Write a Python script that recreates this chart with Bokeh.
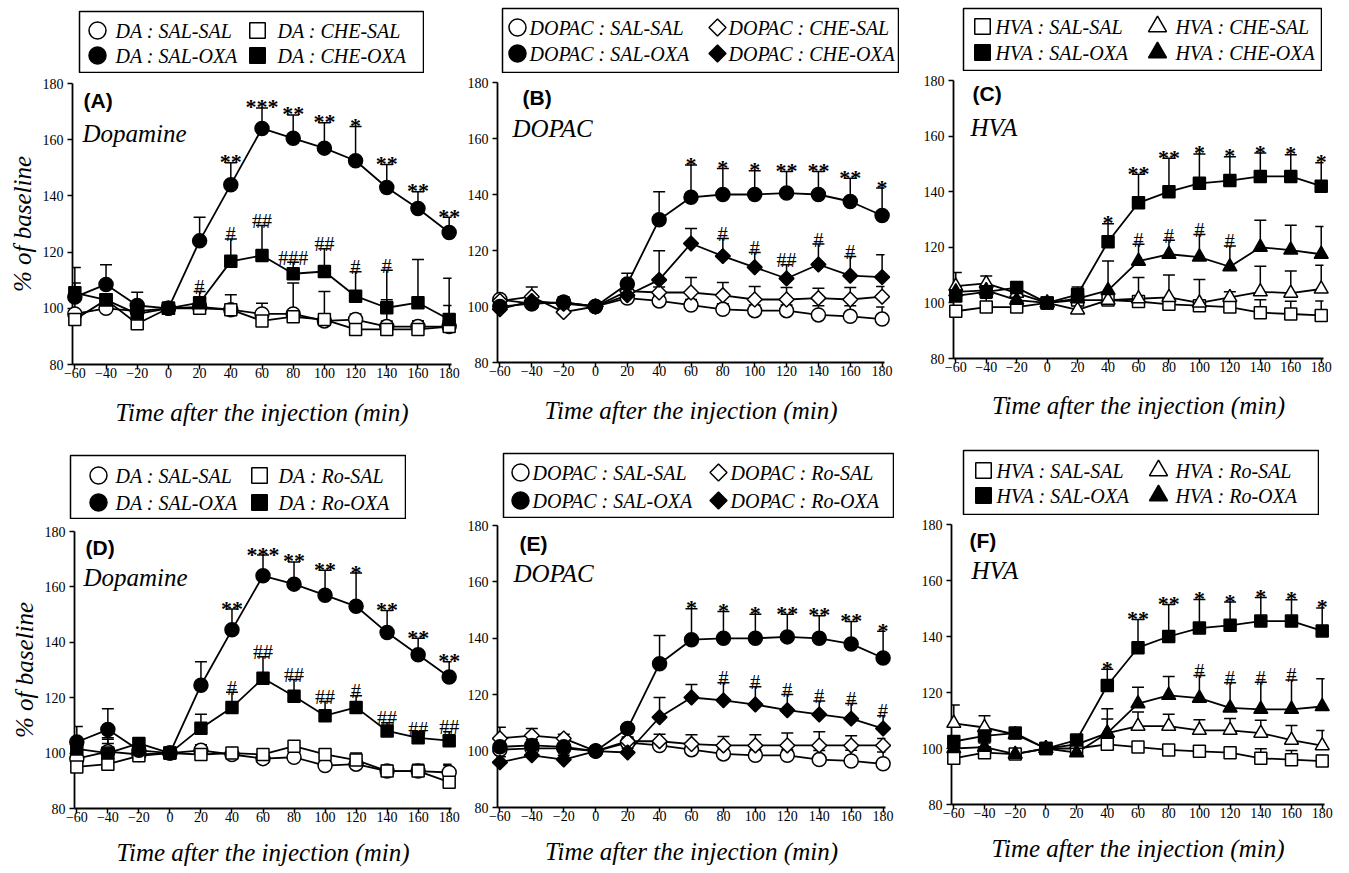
import math
from bokeh.plotting import figure
from bokeh.layouts import row, column
from bokeh.models import ColumnDataSource, Whisker, TeeHead, Label, Range1d, Spacer
from bokeh.core.properties import value
from bokeh.embed import file_html
from bokeh.resources import INLINE

# ---------------------------------------------------------------- data
TIME = [-60, -40, -20, 0, 20, 40, 60, 80, 100, 120, 140, 160, 180]
X_TICKS = [-60, -40, -20, 0, 20, 40, 60, 80, 100, 120, 140, 160, 180]
Y_TICKS = [80, 100, 120, 140, 160, 180]
X_TITLE = "Time after the injection (min)"
Y_TITLE = "% of baseline"

# (A) Dopamine, CHE
A_SAL_SAL = [98, 100, 99, 100, 100.5, 99.5, 98, 98, 95.5, 96, 93.5, 93.5, 93.5]
A_SAL_SAL_ERR = [8, 2, 2, 0, 1.5, 5.3, 3.8, 11, 2, 2, 2, 2, 1.5]
A_CHE_SAL = [96, 103, 94.5, 100, 100, 99.5, 95.5, 97, 96, 92.5, 92.5, 92.5, 93.5]
A_CHE_SAL_ERR = [2, 2, 2, 0, 1.5, 1.5, 2, 2, 10, 2, 10.5, 3, 7.5]
A_SAL_OXA = [104, 108.5, 101, 100, 124, 144, 164, 160.5, 157, 152.5, 143, 135.5, 127]
A_SAL_OXA_ERR = [10.5, 7, 4.7, 0, 8.4, 7.8, 7.3, 8.3, 9, 12.2, 8.2, 6, 5.4]
A_CHE_OXA = [105.5, 103, 98, 100, 102, 116.7, 118.8, 112.3, 113.1, 104.3, 100.2, 102, 96]
A_CHE_OXA_ERR = [3.5, 2, 3, 0, 4, 8, 10.7, 4.1, 8.1, 8.7, 13.3, 15.4, 14.7]
A_STARS = ["", "", "", "", "", "**", "***", "**", "**", "*", "**", "**", "**"]
A_HASH = ["", "", "", "", "#", "#", "##", "###", "##", "#", "#", "", ""]

# (B) DOPAC, CHE
B_SAL_SAL = [102.5, 101, 101.5, 100, 103, 102, 100.5, 99, 98.5, 98.5, 97, 96.5, 95.5]
B_SAL_SAL_ERR = [1.5, 2, 2, 0, 1.5, 2, 2, 2, 2, 2, 3.3, 3.8, 4.3]
B_CHE_SAL = [102, 103.5, 98, 100, 105.5, 105, 105, 104, 102.5, 102.5, 103, 102.5, 103.5]
B_CHE_SAL_ERR = [1.5, 3.5, 1.5, 0, 2, 2, 5.4, 4.6, 4.6, 4.3, 3.5, 4.3, 3.6]
B_SAL_OXA = [100, 101, 101.5, 100, 108, 131, 139, 140, 140, 140.5, 140, 137.5, 132.5]
B_SAL_OXA_ERR = [2, 2, 1.5, 0, 3.9, 10, 11.5, 9.3, 8.5, 7.7, 8.2, 8.3, 9.8]
B_CHE_OXA = [99, 102, 101, 100, 104, 109.5, 122.5, 118, 114, 110, 115, 111, 110.5]
B_CHE_OXA_ERR = [1.5, 2, 1.5, 0, 2, 10.4, 5.4, 6.3, 5.3, 4.9, 7.3, 6.9, 8]
B_STARS = ["", "", "", "", "", "", "*", "*", "*", "**", "**", "**", "*"]
B_HASH = ["", "", "", "", "", "", "", "#", "#", "##", "#", "#", ""]

# (C) HVA, CHE
C_SAL_SAL = [97, 98.5, 98.5, 100, 101, 101, 100.5, 99.5, 99, 98.5, 96.5, 96, 95.5]
C_SAL_SAL_ERR = [1.5, 3.2, 1.5, 0, 1.5, 1.5, 1.5, 1.5, 1.5, 1.5, 4.6, 4.6, 5.2]
C_CHE_SAL = [106, 107, 103.5, 100, 97.5, 101, 101.5, 102, 100, 102, 104, 103.5, 105]
C_CHE_SAL_ERR = [4.9, 2.7, 1.5, 0, 1.5, 1.5, 7.6, 8, 8.4, 2, 9.2, 8, 8.5]
C_SAL_OXA = [102.5, 104, 105.5, 100, 103, 122, 136, 140, 143, 144, 145.5, 145.5, 142]
C_SAL_OXA_ERR = [2, 2, 1.5, 0, 2.7, 6.5, 10.3, 12, 10.6, 8.6, 8.4, 7.8, 8.4]
C_CHE_OXA = [104, 104.5, 101, 100, 101.5, 104.5, 115, 117.5, 116.5, 113, 120, 119, 117.5]
C_CHE_OXA_ERR = [2, 2, 1.5, 0, 1.5, 10.6, 6.1, 5, 8.1, 7.5, 9.7, 8.9, 10]
C_STARS = ["", "", "", "", "", "*", "**", "**", "*", "*", "*", "*", "*"]
C_HASH = ["", "", "", "", "", "", "#", "#", "#", "#", "", "", ""]

# (D) Dopamine, Ro
D_SAL_SAL = [98, 100.5, 99.5, 100, 101, 99.5, 98, 98.5, 95.5, 96, 93.5, 93.5, 93]
D_SAL_SAL_ERR = [2, 3, 2, 0, 2, 2, 2, 1.5, 2, 2, 2, 2, 3]
D_RO_SAL = [95, 96, 99, 100, 99.5, 100, 99.5, 102.5, 99.5, 97.5, 93.5, 93.5, 89.5]
D_RO_SAL_ERR = [3, 9, 2, 0, 1.5, 1.5, 2, 1.5, 1.5, 2.5, 2, 2.5, 6]
D_SAL_OXA = [104, 108.5, 101, 100, 124.5, 144.5, 164, 161, 157, 153, 143.5, 135.5, 127.5]
D_SAL_OXA_ERR = [5.6, 7.5, 4, 0, 8.5, 7.5, 7.5, 8, 9, 12, 8, 6, 5.5]
D_RO_OXA = [101.5, 100, 103.5, 100, 109, 116.5, 127, 120.5, 113.5, 116.5, 108, 105.5, 104.5]
D_RO_OXA_ERR = [2, 5.5, 2, 0, 5, 5.5, 7.8, 6.1, 5.1, 4.2, 3, 1.5, 3.2]
D_STARS = ["", "", "", "", "", "**", "***", "**", "**", "*", "**", "**", "**"]
D_HASH = ["", "", "", "", "", "#", "##", "##", "##", "#", "##", "##", "##"]

# (E) DOPAC, Ro
E_SAL_SAL = [100.5, 101, 101, 100, 103, 102, 100.5, 99, 98.5, 98.5, 97, 96.5, 95.5]
E_SAL_SAL_ERR = [1.5, 1.5, 1.5, 0, 1.5, 1.5, 1.5, 2, 2, 2, 3.2, 3.8, 4.2]
E_RO_SAL = [104.5, 105.5, 104.5, 100, 103.5, 103.5, 102.5, 102, 102, 102, 102, 102, 102]
E_RO_SAL_ERR = [4, 2.5, 1.5, 0, 1.5, 2.5, 3.3, 3.2, 3.8, 4.4, 4.9, 3.4, 2.5]
E_SAL_OXA = [101.5, 102, 101.5, 100, 108, 131, 139.5, 140, 140, 140.5, 140, 138, 133]
E_SAL_OXA_ERR = [2, 2, 1.5, 0, 1.5, 10, 11, 9.5, 8.5, 8, 8, 8, 9.5]
E_RO_OXA = [96, 98.5, 97, 100, 99.5, 112, 119, 118, 116.5, 114.5, 113, 111.5, 108]
E_RO_OXA_ERR = [2, 2, 1.5, 0, 1.5, 7, 4.6, 6.2, 6.3, 5.6, 4.8, 5.4, 4.5]
E_STARS = ["", "", "", "", "", "", "*", "*", "*", "**", "**", "**", "*"]
E_HASH = ["", "", "", "", "", "", "", "#", "#", "#", "#", "#", "#"]

# (F) HVA, Ro
F_SAL_SAL = [96.5, 98.5, 98, 100, 100, 101.5, 100.5, 99.5, 99, 98.5, 96.5, 96, 95.5]
F_SAL_SAL_ERR = [1.5, 1.5, 1.5, 0, 1.5, 1.5, 1.5, 1.5, 1.5, 1.5, 3.4, 3.3, 2]
F_RO_SAL = [109, 107.5, 105, 100, 101.5, 105.5, 108, 108, 106.5, 106.5, 105.5, 103, 101]
F_RO_SAL_ERR = [6.5, 4.2, 1.5, 0, 1.5, 5, 5, 4.2, 3.8, 4.2, 4.6, 5.2, 5.4]
F_SAL_OXA = [102.5, 104.5, 105.5, 100, 103, 122.5, 136, 140, 143, 144, 145.5, 145.5, 142]
F_SAL_OXA_ERR = [2, 2, 1.5, 0, 1.5, 5.8, 10.1, 11.4, 10.2, 8.3, 8.4, 7.6, 8.2]
F_RO_OXA = [100, 100.5, 98, 100, 98.5, 105.5, 116, 119, 118, 114.5, 114, 114, 115]
F_RO_OXA_ERR = [1.5, 1.5, 1.5, 0, 1.5, 8.7, 5.9, 6.7, 8.1, 9, 9.7, 10.5, 9.9]
F_STARS = ["", "", "", "", "", "*", "**", "**", "*", "*", "*", "*", "*"]
F_HASH = ["", "", "", "", "", "", "", "", "#", "#", "#", "#", ""]

# ---------------------------------------------------------------- styles / layout
SERIF = "Liberation Serif"
SANS = "Liberation Sans"
X_RANGE = (-61.5, 181.5)
Y_RANGE = (80, 180)

MARK = {
    "circle": dict(marker="circle", size=14, angle=0.0),
    "square": dict(marker="square", size=12, angle=0.0),
    "diamond": dict(marker="square", size=10.5, angle=math.pi / 4),
    "triangle": dict(marker="triangle", size=14, angle=0.0),
}
LEG_SIZE = {"circle": 17, "square": 15.5, "diamond": 12, "triangle": 18}

COL_X = [0, 464, 915, 1349]      # page px of column edges
ROW_Y = [0, 444, 870]            # page px of row edges

PANELS = [
    dict(letter="(A)", name="Dopamine", col=0, row=0, frame=(72, 83, 451, 364), ylabel=True,
         series=[(A_SAL_SAL, A_SAL_SAL_ERR, "circle", False, "DA : SAL-SAL"),
                 (A_CHE_SAL, A_CHE_SAL_ERR, "square", False, "DA : CHE-SAL"),
                 (A_SAL_OXA, A_SAL_OXA_ERR, "circle", True, "DA : SAL-OXA"),
                 (A_CHE_OXA, A_CHE_OXA_ERR, "square", True, "DA : CHE-OXA")],
         stars=A_STARS, hashes=A_HASH,
         legend=dict(box=(79, 11, 423, 72), mx=(97, 257), tx=(115, 277), ry=(30, 55)),
         tag=(83, 100), title=(82, 133), xlab_standoff=18),
    dict(letter="(B)", name="DOPAC", col=1, row=0, frame=(495, 82, 882, 362), ylabel=False,
         series=[(B_SAL_SAL, B_SAL_SAL_ERR, "circle", False, "DOPAC : SAL-SAL"),
                 (B_CHE_SAL, B_CHE_SAL_ERR, "diamond", False, "DOPAC : CHE-SAL"),
                 (B_SAL_OXA, B_SAL_OXA_ERR, "circle", True, "DOPAC : SAL-OXA"),
                 (B_CHE_OXA, B_CHE_OXA_ERR, "diamond", True, "DOPAC : CHE-OXA")],
         stars=B_STARS, hashes=B_HASH,
         legend=dict(box=(502, 8, 898, 72), mx=(517, 717), tx=(529, 728), ry=(27, 53)),
         tag=(520, 97), title=(510, 128), xlab_standoff=18),
    dict(letter="(C)", name="HVA", col=2, row=0, frame=(951, 80, 1321, 358), ylabel=False,
         series=[(C_SAL_SAL, C_SAL_SAL_ERR, "square", False, "HVA : SAL-SAL"),
                 (C_CHE_SAL, C_CHE_SAL_ERR, "triangle", False, "HVA : CHE-SAL"),
                 (C_SAL_OXA, C_SAL_OXA_ERR, "square", True, "HVA : SAL-OXA"),
                 (C_CHE_OXA, C_CHE_OXA_ERR, "triangle", True, "HVA : CHE-OXA")],
         stars=C_STARS, hashes=C_HASH,
         legend=dict(box=(961, 8, 1319, 70), mx=(980, 1155), tx=(993, 1173), ry=(26, 52)),
         tag=(970, 93), title=(968, 127), xlab_standoff=17),
    dict(letter="(D)", name="Dopamine", col=0, row=1, frame=(74, 531, 451, 808), ylabel=True,
         series=[(D_SAL_SAL, D_SAL_SAL_ERR, "circle", False, "DA : SAL-SAL"),
                 (D_RO_SAL, D_RO_SAL_ERR, "square", False, "DA : Ro-SAL"),
                 (D_SAL_OXA, D_SAL_OXA_ERR, "circle", True, "DA : SAL-OXA"),
                 (D_RO_OXA, D_RO_OXA_ERR, "square", True, "DA : Ro-OXA")],
         stars=D_STARS, hashes=D_HASH,
         legend=dict(box=(70, 455, 405, 518), mx=(98, 259), tx=(115, 278), ry=(475, 502)),
         tag=(85, 547), title=(83, 577), xlab_standoff=14),
    dict(letter="(E)", name="DOPAC", col=1, row=1, frame=(496, 525, 884, 807), ylabel=False,
         series=[(E_SAL_SAL, E_SAL_SAL_ERR, "circle", False, "DOPAC : SAL-SAL"),
                 (E_RO_SAL, E_RO_SAL_ERR, "diamond", False, "DOPAC : Ro-SAL"),
                 (E_SAL_OXA, E_SAL_OXA_ERR, "circle", True, "DOPAC : SAL-OXA"),
                 (E_RO_OXA, E_RO_OXA_ERR, "diamond", True, "DOPAC : Ro-OXA")],
         stars=E_STARS, hashes=E_HASH,
         legend=dict(box=(503, 453, 893, 517), mx=(520, 718), tx=(532, 730), ry=(472, 500)),
         tag=(518, 543), title=(512, 573), xlab_standoff=14),
    dict(letter="(F)", name="HVA", col=2, row=1, frame=(950, 524, 1323, 804), ylabel=False,
         series=[(F_SAL_SAL, F_SAL_SAL_ERR, "square", False, "HVA : SAL-SAL"),
                 (F_RO_SAL, F_RO_SAL_ERR, "triangle", False, "HVA : Ro-SAL"),
                 (F_SAL_OXA, F_SAL_OXA_ERR, "square", True, "HVA : SAL-OXA"),
                 (F_RO_OXA, F_RO_OXA_ERR, "triangle", True, "HVA : Ro-OXA")],
         stars=F_STARS, hashes=F_HASH,
         legend=dict(box=(962, 450, 1317, 514), mx=(982, 1157), tx=(995, 1174), ry=(470, 495)),
         tag=(968, 540), title=(970, 570), xlab_standoff=14),
]


def build_legend(cfg):
    lg = cfg["legend"]
    bl, bt, br, bb = lg["box"]
    lf = figure(frame_width=br - bl, frame_height=bb - bt,
                x_range=Range1d(bl, br), y_range=Range1d(bb, bt),
                x_axis_type=None, y_axis_type=None, title=None,
                output_backend="svg", toolbar_location=None,
                min_border_left=1, min_border_right=1, min_border_top=1, min_border_bottom=1)
    lf.outline_line_color = "black"
    lf.outline_line_width = 1.5
    lf.background_fill_color = "white"
    lf.border_fill_color = "white"
    order = [(0, 0, 0), (1, 1, 0), (2, 0, 1), (3, 1, 1)]  # series, column, row
    tx, ty, tt = [], [], []
    for sidx, c, r in order:
        vals, errs, shape, filled, label = cfg["series"][sidx]
        m = MARK[shape]
        lf.scatter([lg["mx"][c]], [lg["ry"][r]], marker=m["marker"], size=LEG_SIZE[shape],
                   angle=m["angle"], fill_color="black" if filled else "white",
                   line_color="black", line_width=1.5)
        tx.append(lg["tx"][c]); ty.append(lg["ry"][r]); tt.append(label)
    lf.text(tx, ty, text=tt, text_font=value(SERIF), text_font_style="italic",
            text_font_size="20px", text_align="left", text_baseline="middle",
            text_color="black")
    return lf


def build_plot(cfg):
    L, T, R, B = cfg["frame"]
    cx0, cx1 = COL_X[cfg["col"]], COL_X[cfg["col"] + 1]
    ry1 = ROW_Y[cfg["row"] + 1]
    leg_bottom = cfg["legend"]["box"][3] + 1
    p = figure(frame_width=R - L, frame_height=B - T, x_range=X_RANGE, y_range=Y_RANGE,
               output_backend="svg", toolbar_location=None, title=None,
               min_border_left=L - cx0, min_border_right=cx1 - R,
               min_border_top=T - leg_bottom, min_border_bottom=ry1 - B)
    p.outline_line_color = None
    p.background_fill_color = "white"
    p.border_fill_color = "white"
    p.grid.visible = False

    def dx(px):
        return X_RANGE[0] + (px - L) / (R - L) * (X_RANGE[1] - X_RANGE[0])

    def dy(py):
        return Y_RANGE[1] - (py - T) / (B - T) * (Y_RANGE[1] - Y_RANGE[0])

    ppu_y = (B - T) / (Y_RANGE[1] - Y_RANGE[0])

    p.xaxis.ticker = X_TICKS
    p.yaxis.ticker = Y_TICKS
    for ax in (p.xaxis, p.yaxis):
        ax.axis_line_width = 1.8
        ax.axis_line_color = "black"
        ax.major_tick_line_width = 1.5
        ax.major_tick_line_color = "black"
        ax.major_tick_out = 5
        ax.major_tick_in = 0
        ax.minor_tick_line_color = None
        ax.major_label_text_font = SERIF
        ax.major_label_text_font_size = "14px"
        ax.major_label_text_color = "black"
        ax.axis_label_text_font = SERIF
        ax.axis_label_text_font_style = "italic"
        ax.axis_label_text_font_size = "25px"
        ax.axis_label_text_color = "black"
    p.xaxis.major_label_standoff = -2
    p.yaxis.major_label_standoff = 4
    p.xaxis.axis_label = X_TITLE
    p.xaxis.axis_label_standoff = cfg["xlab_standoff"]
    if cfg["ylabel"]:
        p.yaxis.axis_label = Y_TITLE
        p.yaxis.axis_label_standoff = 4

    series = cfg["series"]

    for vals, errs, shape, filled, label in series:
        base = [t for t, e in zip(TIME, errs) if e > 0]
        lo = [v for v, e in zip(vals, errs) if e > 0]
        hi = [v + e for v, e in zip(vals, errs) if e > 0]
        src = ColumnDataSource(dict(base=base, lower=lo, upper=hi))
        p.add_layout(Whisker(source=src, base="base", lower="lower", upper="upper",
                             dimension="height", line_color="black", line_width=1.5,
                             level="annotation",
                             upper_head=TeeHead(size=12, line_color="black", line_width=1.5),
                             lower_head=None))

    for vals, errs, shape, filled, label in series:
        p.line(TIME, vals, line_color="black", line_width=1.8, level="overlay")

    for idx in (0, 1, 3, 2):
        vals, errs, shape, filled, label = series[idx]
        m = MARK[shape]
        p.scatter(TIME, vals, marker=m["marker"], size=m["size"], angle=m["angle"],
                  fill_color="black" if filled else "white", line_color="black",
                  line_width=1.5, level="overlay")

    sal_vals, sal_errs = series[2][0], series[2][1]
    trt_vals, trt_errs = series[3][0], series[3][1]
    sx, sy, st = [], [], []
    for t, v, e, s in zip(TIME, sal_vals, sal_errs, cfg["stars"]):
        if s:
            sx.append(t); sy.append(v + e + 1.0 / ppu_y); st.append(s)
    p.text(sx, sy, text=st, text_font=value(SERIF), text_font_size="22px",
           text_font_style="bold", text_align="center", text_baseline="alphabetic",
           text_color="black", level="overlay")
    hx, hy, ht = [], [], []
    for t, v, e, s in zip(TIME, trt_vals, trt_errs, cfg["hashes"]):
        if s:
            hx.append(t); hy.append(v + e + 4.5 / ppu_y); ht.append(s)
    p.text(hx, hy, text=ht, text_font=value(SERIF), text_font_size="20px",
           text_align="center", text_baseline="alphabetic", text_color="black",
           level="overlay")

    p.add_layout(Label(x=dx(cfg["tag"][0]), y=dy(cfg["tag"][1]), text=cfg["letter"],
                       text_font=SANS, text_font_style="bold", text_font_size="21px",
                       text_baseline="middle", text_align="left", text_color="black"))
    p.add_layout(Label(x=dx(cfg["title"][0]), y=dy(cfg["title"][1]), text=cfg["name"],
                       text_font=SERIF, text_font_style="italic", text_font_size="25px",
                       text_baseline="middle", text_align="left", text_color="black"))
    return p


def build_panel(cfg):
    cx0 = COL_X[cfg["col"]]
    ry0 = ROW_Y[cfg["row"]]
    bl, bt, br, bb = cfg["legend"]["box"]
    kids = []
    if bt - 1 - ry0 > 0:
        kids.append(Spacer(width=10, height=bt - 1 - ry0))
    leg_row = [build_legend(cfg)]
    if bl - 1 - cx0 > 0:
        leg_row.insert(0, Spacer(width=bl - 1 - cx0, height=10))
    kids.append(row(*leg_row))
    kids.append(build_plot(cfg))
    return column(*kids)


cols = [build_panel(cfg) for cfg in PANELS]
layout = column(row(cols[0], cols[1], cols[2]), row(cols[3], cols[4], cols[5]))
open("out.html", "w").write(file_html(layout, INLINE))
